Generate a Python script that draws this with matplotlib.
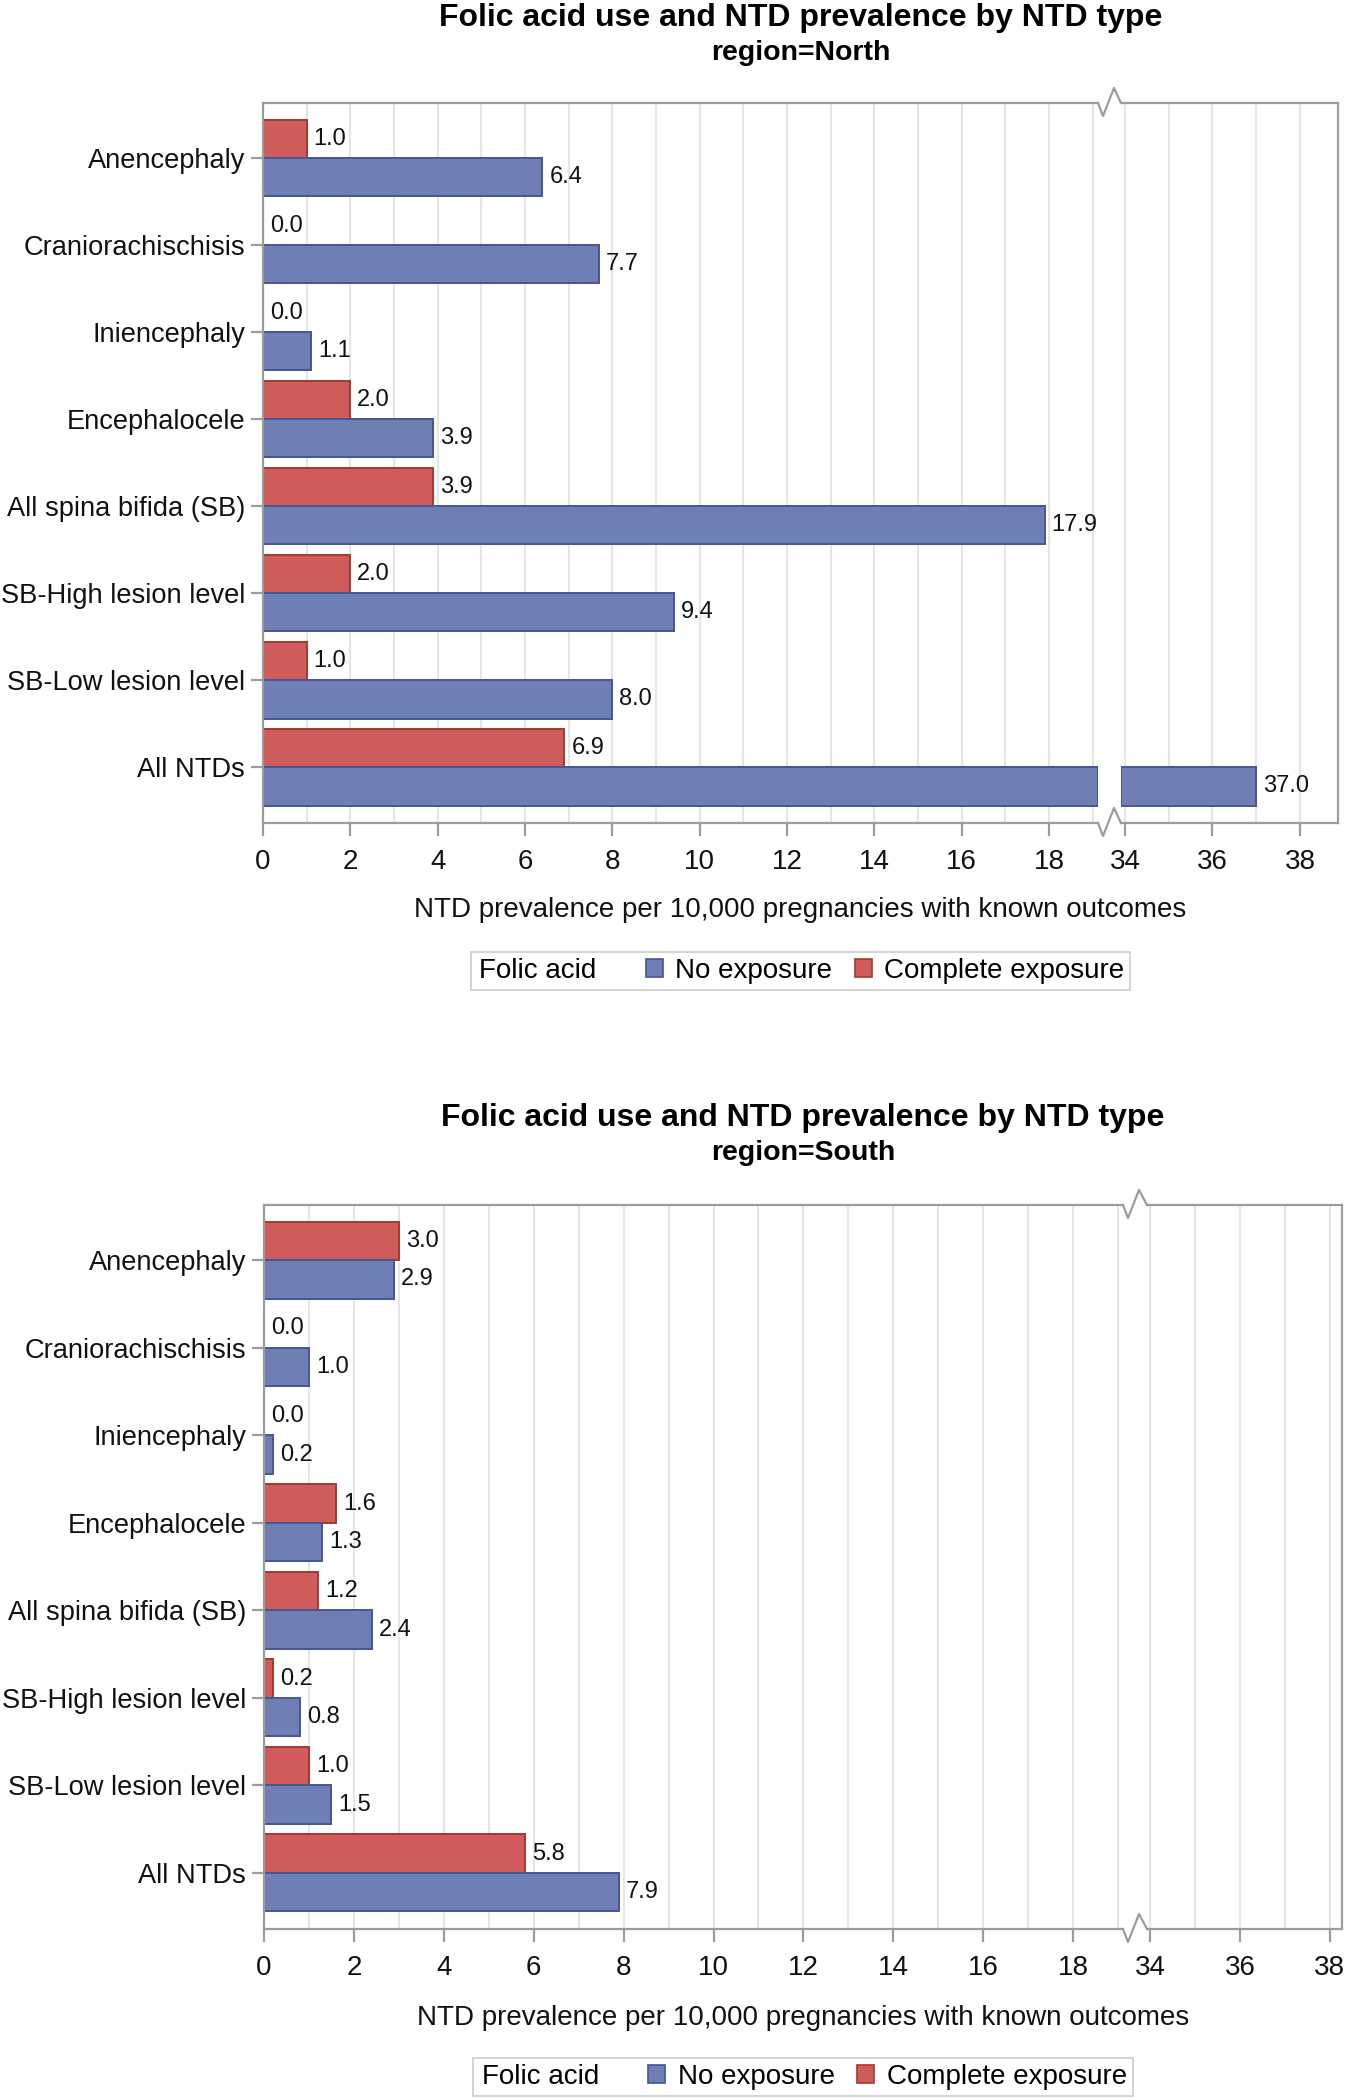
import numpy as np
import matplotlib.pyplot as plt
from matplotlib.patches import Patch
from matplotlib.lines import Line2D

W, H = 1345, 2100

# Типы дефектов (сверху вниз) и значения по двум регионам
ntd_types = ["Anencephaly", "Craniorachischisis", "Iniencephaly", "Encephalocele",
             "All spina bifida (SB)", "SB-High lesion level", "SB-Low lesion level", "All NTDs"]
north_none = [6.4, 7.7, 1.1, 3.9, 17.9, 9.4, 8.0, 37.0]
north_complete = [1.0, 0.0, 0.0, 2.0, 3.9, 2.0, 1.0, 6.9]
south_none = [2.9, 1.0, 0.2, 1.3, 2.4, 0.8, 1.5, 7.9]
south_complete = [3.0, 0.0, 0.0, 1.6, 1.2, 0.2, 1.0, 5.8]

BLUE, BLUE_EDGE = "#6F7EB3", "#445694"
RED, RED_EDGE = "#D05B5B", "#A23A2E"
FRAME = "#9C9C9C"
GRID = "#E6E6E6"
TEXT = "#111111"
FS = 20

plt.rcParams['font.family'] = ['Liberation Sans', 'DejaVu Sans']


def fx(px):
    return px / W


def fy(py):
    return 1 - py / H


def rect(x0, x1, y0, y1):
    # пиксельный прямоугольник -> координаты фигуры
    return [fx(x0), fy(y1), (x1 - x0) / W, (y1 - y0) / H]


def style_axes(ax, lo, hi, major, show_left, show_right):
    ax.set_xlim(lo, hi)
    ax.set_ylim(len(ntd_types) - 1 + 0.64, -0.63)
    ax.set_xticks(major)
    ax.set_xticks(np.arange(np.ceil(lo), np.floor(hi) + 1, 1), minor=True)
    ax.grid(True, which='both', axis='x', color=GRID, linewidth=1.5, zorder=0)
    ax.set_axisbelow(True)
    for side, sp in ax.spines.items():
        sp.set_color(FRAME)
        sp.set_linewidth(1.6)
    ax.spines['left'].set_visible(show_left)
    ax.spines['right'].set_visible(show_right)
    ax.tick_params(axis='x', which='major', length=9, width=1.6, color=FRAME,
                   labelsize=FS, labelcolor=TEXT, pad=10)
    ax.tick_params(axis='x', which='minor', length=0)
    if show_left:
        ax.set_yticks(np.arange(len(ntd_types)))
        ax.set_yticklabels(ntd_types)
        ax.tick_params(axis='y', length=9, width=1.6, color=FRAME,
                       labelsize=19.6, labelcolor=TEXT, pad=4)
    else:
        ax.tick_params(axis='y', left=False, labelleft=False)


def draw_panel(fig, region, none_vals, comp_vals, box, left_hi, right_lo, right_hi,
               title_y, xlabel_y, legend_y):
    x0, xb0, xb1, x1, y0, y1 = box
    axL = fig.add_axes(rect(x0, xb0, y0, y1))
    axR = fig.add_axes(rect(xb1, x1, y0, y1))
    style_axes(axL, 0, left_hi, np.arange(0, 19, 2), True, False)
    style_axes(axR, right_lo, right_hi, [34, 36, 38], False, True)

    pos = np.arange(len(ntd_types))
    h = 0.44
    for vals, off, fc, ec in ((comp_vals, -h / 2, RED, RED_EDGE),
                              (none_vals, h / 2, BLUE, BLUE_EDGE)):
        vals = np.array(vals)
        axL.barh(pos + off, np.minimum(vals, left_hi), height=h, color=fc,
                 edgecolor=ec, linewidth=1.4, zorder=2)
        big = vals > right_lo
        if big.any():
            axR.barh(pos[big] + off, vals[big] - right_lo, left=right_lo, height=h,
                     color=fc, edgecolor=ec, linewidth=1.4, zorder=2)
        for p, v in zip(pos, vals):
            ax = axL if v <= left_hi else axR
            ax.annotate(f"{v:.1f}", (v, p + off), xytext=(5, 0), textcoords='offset points',
                        va='center', ha='left', fontsize=17, color=TEXT,
                        annotation_clip=False)

    # разрыв оси: зигзаг на верхней и нижней рамке
    for yb in (y0, y1):
        xs = [xb0, xb0 + 5, xb0 + 16, xb1]
        ys = [yb, yb + 13, yb - 15, yb]
        fig.add_artist(Line2D([fx(v) for v in xs], [fy(v) for v in ys],
                              color=FRAME, linewidth=1.6))

    cx = fx((x0 + x1) / 2)
    fig.text(cx, fy(title_y), "Folic acid use and NTD prevalence by NTD type",
             ha='center', va='center', fontsize=23, fontweight='bold', color='black')
    fig.text(cx, fy(title_y + 35), f"region={region}",
             ha='center', va='center', fontsize=20.5, fontweight='bold', color='black')
    fig.text(cx, fy(xlabel_y), "NTD prevalence per 10,000 pregnancies with known outcomes",
             ha='center', va='center', fontsize=FS, color=TEXT)

    handles = [Patch(facecolor='none', edgecolor='none'),
               Patch(facecolor=BLUE, edgecolor=BLUE_EDGE, linewidth=1.2),
               Patch(facecolor=RED, edgecolor=RED_EDGE, linewidth=1.2)]
    labels = ["Folic acid", "No exposure", "Complete exposure"]
    leg = fig.legend(handles, labels, ncol=3, loc='center', bbox_to_anchor=(cx, fy(legend_y)),
                     fontsize=FS, frameon=True, fancybox=False, edgecolor='#C8C8C8',
                     handlelength=0.62, handleheight=0.62, handletextpad=0.45,
                     columnspacing=0.8, borderpad=0.2, borderaxespad=0)
    leg.get_frame().set_linewidth(1.4)
    # заголовок легенды стоит на месте пустого маркера
    leg.get_texts()[0].set_x(-27)


fig = plt.figure(figsize=(W / 100, H / 100), dpi=100)

draw_panel(fig, "North", north_none, north_complete,
           (263, 1098, 1121, 1338, 103, 823), 19.12, 33.91, 38.87,
           title_y=18, xlabel_y=910, legend_y=971)
draw_panel(fig, "South", south_none, south_complete,
           (264, 1123, 1147, 1342, 1205, 1929), 19.11, 33.93, 38.27,
           title_y=1118, xlabel_y=2018, legend_y=2077)

fig.savefig("out.png", dpi=100, facecolor='white')
